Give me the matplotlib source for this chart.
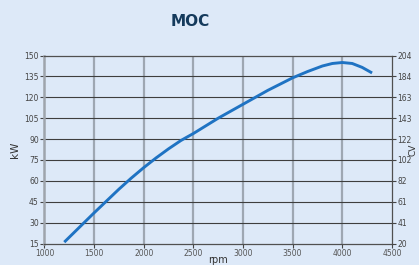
import numpy as np
import matplotlib.pyplot as plt

# power curve
rpm = [1200, 1350, 1500, 1625, 1750, 1875, 2000, 2125, 2250, 2375, 2500, 2750,
       3000, 3250, 3500, 3650, 3800, 3900, 4000, 4100, 4200, 4300]
kw = [16, 26.5, 37, 45.5, 54, 62, 69.5, 76.5, 83, 89, 94, 105,
      115, 125, 134, 138.5, 142.5, 144.3, 145, 144.3, 141.5, 137.5]

kw_ticks = [15, 30, 45, 60, 75, 90, 105, 120, 135, 150]
cv_labels = ['20', '41', '61', '82', '102', '122', '143', '163', '184', '204']
rpm_ticks = [1000, 1500, 2000, 2500, 3000, 3500, 4000, 4500]

bg = '#dde9f8'
fig = plt.figure(figsize=(4.19, 2.65), dpi=100, facecolor=bg)
ax = fig.add_axes([0.106, 0.081, 0.8294, 0.7094])
ax.set_facecolor('none')

ax.set_xlim(1000, 4500)
ax.set_ylim(15, 150)
ax.set_xticks(rpm_ticks)
ax.set_yticks(kw_ticks)

# grid: vertical light grey and thick, horizontal dark and thin
for x in rpm_ticks[1:-1]:
    ax.axvline(x, color='#9ea7b2', lw=1.6, zorder=1)
for y in kw_ticks[1:-1]:
    ax.axhline(y, color='#3e3e3e', lw=0.8, zorder=1)

ax.plot(rpm, kw, color='#1f73c3', lw=2.1, zorder=3, solid_capstyle='butt')

for s in ['top', 'bottom', 'right']:
    ax.spines[s].set_color('#505050')
    ax.spines[s].set_linewidth(0.9)
ax.spines['left'].set_color('#9ea4ac')
ax.spines['left'].set_linewidth(1.8)

ax.tick_params(axis='both', labelsize=5.5, colors='#444444', length=3, width=0.8, pad=1)
ax.tick_params(axis='x', labelcolor='#555555')
ax.set_ylabel('kW', fontsize=7.5, color='#333333', labelpad=3)
ax.set_xlabel('rpm', fontsize=7, color='#333333', labelpad=-2)

ax2 = ax.twinx()
ax2.set_ylim(15, 150)
ax2.set_yticks(kw_ticks)
ax2.set_yticklabels(cv_labels)
ax2.tick_params(axis='y', labelsize=5.5, colors='#444444', length=3, width=0.8, pad=1)
ax2.set_ylabel('CV', fontsize=6.5, color='#333333')
ax2.yaxis.set_label_coords(1.047, 0.5)
for s in ax2.spines.values():
    s.set_visible(False)

fig.text(190 / 419, 1 - 22 / 265, 'MOC', fontsize=11, fontweight='bold',
         color='#143a5c', ha='center', va='center')

fig.savefig('out.png', dpi=100, facecolor=bg)
